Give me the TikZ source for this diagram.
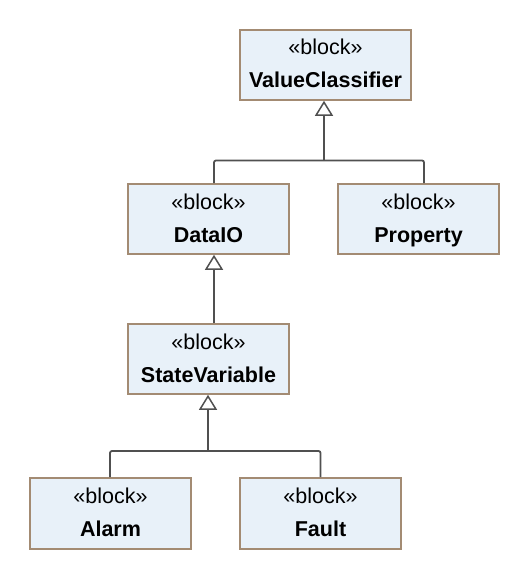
\documentclass[tikz,border=0pt]{standalone}
\usepackage{fontspec}
\setmainfont{Liberation Sans}
\usetikzlibrary{arrows.meta,calc}
\definecolor{boxfill}{HTML}{E8F1F9}
\definecolor{boxline}{HTML}{A38B73}
\definecolor{conn}{HTML}{505050}
\begin{document}
\begin{tikzpicture}[x=1pt,y=-1pt,
  block/.style={draw=boxline,fill=boxfill,line width=1.6pt,minimum width=161pt,minimum height=70pt,inner sep=0pt,align=center,font=\fontsize{21.5}{33}\selectfont},
  conline/.style={draw=conn,line width=1.8pt,rounded corners=2pt},
  gen/.style={conline,-{Triangle[open,length=15pt,width=18pt,fill=white,line width=1.5pt]}}]
\useasboundingbox (0,0) rectangle (528,578);
\newcommand{\bl}[1]{\rule{0pt}{20pt}«block»\\\rule[-7pt]{0pt}{7pt}\textbf{#1}}
\node[block,minimum width=171pt] (VC) at (325.5,65) {\bl{ValueClassifier}};
\node[block] (DIO) at (208.5,219) {\bl{DataIO}};
\node[block] (Prop) at (418.5,219) {\bl{Property}};
\node[block] (SV) at (208.5,359) {\bl{StateVariable}};
\node[block,minimum height=71pt] (Al) at (110.5,513.5) {\bl{Alarm}};
\node[block,minimum height=71pt] (Fa) at (320.5,513.5) {\bl{Fault}};
\coordinate (b1) at (324,160.5);
\coordinate (b2) at (208,451);
\draw[conline] ([xshift=5.5pt]DIO.north) |- (b1) -| ([xshift=5.5pt]Prop.north);
\draw[gen] (b1) -- (VC.south -| b1);
\draw[gen] ([xshift=5.5pt]SV.north) -- ([xshift=5.5pt]DIO.south);
\draw[conline] ([xshift=-0.5pt]Al.north) |- (b2) -| (Fa.north);
\draw[gen] (b2) -- (SV.south -| b2);
\end{tikzpicture}
\end{document}
